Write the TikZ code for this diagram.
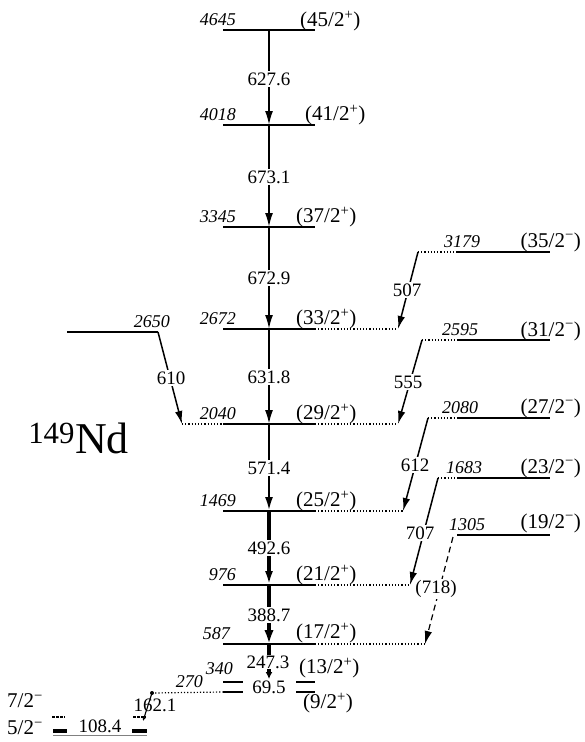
\documentclass[tikz,border=0pt]{standalone}
\usepackage{fontspec}
\setmainfont{Liberation Serif}
\usetikzlibrary{arrows.meta}
\begin{document}
\begin{tikzpicture}[x=1pt,y=-1pt,
  lvl/.style={line width=1.5pt},
  ext/.style={line width=1.2pt, dash pattern=on 1.2pt off 2pt},
  gam/.style={line width=#1, -{Latex[length=14pt,width=8pt]}},
  gam/.default=1.8pt,
  sgam/.style={line width=1.5pt, -{Latex[length=13pt,width=7.5pt]}},
  glab/.style={fill=white, inner sep=1.2pt, font=\fontsize{19}{19}\selectfont},
  elab/.style={inner sep=0pt, font=\fontsize{18}{18}\selectfont\itshape},
  slab/.style={inner sep=0pt, font=\fontsize{21}{21}\selectfont},
]
\useasboundingbox (0,0) rectangle (584,742);

% main band levels
\foreach \n/\y in {4645/30,4018/125,3345/227,2672/329,2040/424,1469/511,976/585,587/644}{
  \coordinate (g\n) at (269,\y);
  \draw[lvl] (223,\y) -- (315,\y);
}
\coordinate (g340) at (269,682);
\coordinate (g270) at (269,692);
\draw[lvl] (223,682) -- (243,682) (296,682) -- (315,682);
\draw[lvl] (223,692) -- (243,692) (296,692) -- (315,692);

% in-band gammas
\draw[gam] (g4645) -- (g4018);
\draw[gam] (g4018) -- (g3345);
\draw[gam] (g3345) -- (g2672);
\draw[gam=1.9pt] (g2672) -- (g2040);
\draw[gam=2.5pt] (g2040) -- (g1469);
\draw[gam=3.6pt] (g1469) -- (g976);
\draw[line width=4.5pt, -{Latex[length=14pt,width=9.5pt]}] (g976) -- (g587);
\draw[line width=4.5pt, -{Latex[length=7pt,width=7pt]}] (g587) -- ([yshift=3pt]g340);

% right side band
\foreach \n/\y/\xs in {3179/252/418,2595/340/422,2080/418/428,1683/478/438}{
  \coordinate (s\n) at (\xs,\y);
  \draw[lvl] (458,\y) -- (550,\y);
  \draw[ext] (s\n) -- (458,\y);
}
\coordinate (s1305) at (453,537);
\draw[lvl] (457,535) -- (550,535);

% dotted extensions of main band to arrow targets
\coordinate (t507) at (398,329);
\coordinate (t555) at (398,424);
\coordinate (t612) at (403,511);
\coordinate (t707) at (410,585);
\coordinate (t718) at (425,644);
\coordinate (t610) at (182,424);
\draw[ext] (315,329) -- (t507);
\draw[ext] (315,424) -- (t555);
\draw[ext] (315,511) -- (t612);
\draw[ext] (315,585) -- (t707);
\draw[ext] (315,644) -- (t718);
\draw[ext] (t610) -- (223,424);

% 2650 level
\coordinate (s2650) at (158,332);
\draw[lvl] (67,332) -- (s2650);

% side gammas
\draw[sgam] (s2650) -- (t610);
\draw[sgam] (s3179) -- (t507);
\draw[sgam] (s2595) -- (t555);
\draw[sgam] (s2080) -- (t612);
\draw[sgam] (s1683) -- (t707);
\draw[line width=1.2pt, dash pattern=on 6pt off 4pt, -{Latex[length=13pt,width=7.5pt]}] (s1305) -- (t718);

% low-lying levels
\coordinate (s270) at (152,693);
\draw[ext] (s270) -- (223,692);
\fill (s270) circle (2pt);
\coordinate (t162) at (143,721);
\draw[line width=1.1pt, -{Latex[length=4pt,width=4pt]}] (s270) -- (t162);
\draw[line width=1.5pt, dash pattern=on 3pt off 1pt] (52,717) -- (65,717) (133,717) -- (146,717);
\draw[line width=3.4pt] (53,731) -- (67,731) (132,731) -- (147,731);
\draw[line width=0.6pt, gray] (53,735) -- (147,735);

% gamma labels
\node[glab] (e6276) at (269,79) {627.6};
\node[glab] (e6731) at (269,177) {673.1};
\node[glab] (e6729) at (269,278) {672.9};
\node[glab] (e6318) at (269,377) {631.8};
\node[glab] (e5714) at (269,468) {571.4};
\node[glab] (e4926) at (269,548) {492.6};
\node[glab] (e3887) at (269,615) {388.7};
\node[glab,inner sep=0.5pt] (e2473) at (268,662) {247.3};
\node[glab] (e695) at (269,687) {69.5};
\node[glab] (e610) at (171,378) {610};
\node[glab] (e507) at (407,290) {507};
\node[glab] (e555) at (408,382) {555};
\node[glab] (e612) at (415,465) {612};
\node[glab] (e707) at (420,533) {707};
\node[glab] (e718) at (436,589) {(718)};
\node[glab,fill=none] (e1621) at (155,705) {162.1};
\node[glab] (e1084) at (100,726) {108.4};

% level energies (main band)
\foreach \n/\y in {4645/30,4018/125,3345/227,2672/329,2040/424,1469/511,976/585}{
  \node[elab,anchor=south east] (l\n) at (236,\y-4) {\n};
}
\node[elab,anchor=south east] (l587) at (230,640) {587};
\node[elab,anchor=south east] (l340) at (233,675) {340};
\node[elab,anchor=south east] (l270) at (203,688) {270};
\node[elab,anchor=south east] (l2650) at (170,328) {2650};
% right band energies
\node[elab,anchor=south west] (l3179) at (444,248) {3179};
\node[elab,anchor=south west] (l2595) at (442,336) {2595};
\node[elab,anchor=south west] (l2080) at (442,414) {2080};
\node[elab,anchor=south west] (l1683) at (446,474) {1683};
\node[elab,anchor=south west] (l1305) at (449,531) {1305};

% spins main band
\node[slab,anchor=west] (j45) at (300,21) {(45/2\textsuperscript{+})};
\node[slab,anchor=west] (j41) at (305,115) {(41/2\textsuperscript{+})};
\node[slab,anchor=west] (j37) at (296,217) {(37/2\textsuperscript{+})};
\node[slab,anchor=west] (j33) at (296,319) {(33/2\textsuperscript{+})};
\node[slab,anchor=west] (j29) at (296,414) {(29/2\textsuperscript{+})};
\node[slab,anchor=west] (j25) at (296,501) {(25/2\textsuperscript{+})};
\node[slab,anchor=west] (j21) at (296,575) {(21/2\textsuperscript{+})};
\node[slab,anchor=west] (j17) at (296,633) {(17/2\textsuperscript{+})};
\node[slab,anchor=west] (j13) at (299,668) {(13/2\textsuperscript{+})};
\node[slab,anchor=west] (j9) at (303,703) {(9/2\textsuperscript{+})};
% spins right band
\node[slab,anchor=east] (j35) at (581,242) {(35/2\textsuperscript{−})};
\node[slab,anchor=east] (j31) at (581,331) {(31/2\textsuperscript{−})};
\node[slab,anchor=east] (j27) at (581,408) {(27/2\textsuperscript{−})};
\node[slab,anchor=east] (j23) at (581,468) {(23/2\textsuperscript{−})};
\node[slab,anchor=east] (j19) at (581,523) {(19/2\textsuperscript{−})};
% low levels
\node[slab,anchor=west] (j7) at (7,701) {7/2\textsuperscript{−}};
\node[slab,anchor=west] (j5) at (7,728) {5/2\textsuperscript{−}};

% nucleus label
\node[inner sep=0pt, anchor=base east, font=\fontsize{44}{44}\selectfont] (nuc) at (129,453) {\textsuperscript{149}Nd};
\end{tikzpicture}
\end{document}
